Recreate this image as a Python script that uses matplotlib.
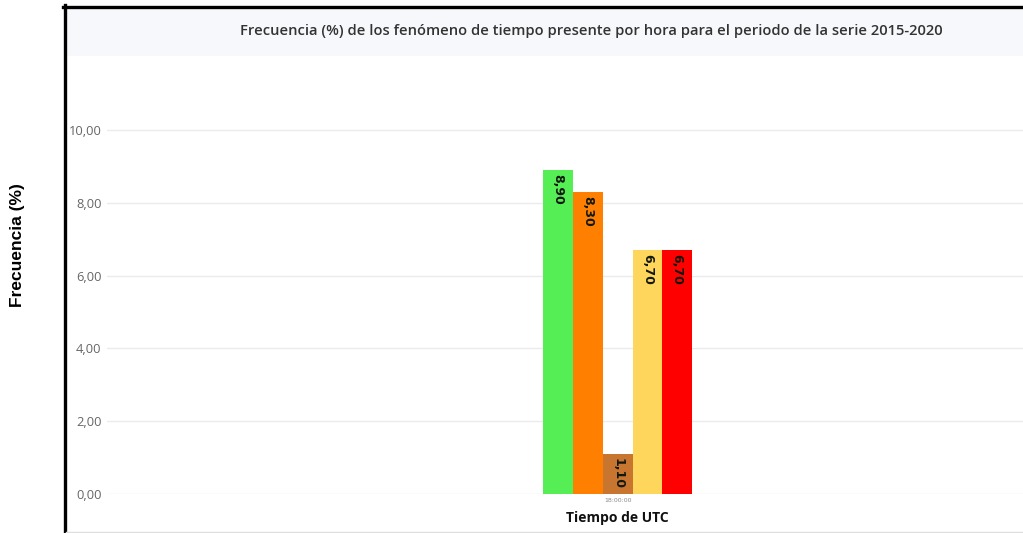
import numpy as np
import matplotlib
matplotlib.use("Agg")
import matplotlib.pyplot as plt
from matplotlib.patches import Rectangle
from matplotlib.lines import Line2D
from matplotlib import transforms

# data
hour_label = "18:00:00"
values = [8.90, 8.30, 1.10, 6.70, 6.70]
bar_colors = ["#55EE55", "#FF8000", "#C8752F", "#FFD65C", "#FF0000"]
y_ticks = [0, 2, 4, 6, 8, 10]

TITLE = ("Frecuencia (%) de los fenómeno de tiempo presente por hora "
         "para el periodo de la serie 2015-2020")

W, H = 1023, 533
fig = plt.figure(figsize=(W / 100, H / 100), dpi=100)
fig.patch.set_facecolor("white")

def fx(px):
    return px / W

def fy(py):
    return 1 - py / H

# title band
fig.patches.append(Rectangle((fx(66), fy(56)), fx(W - 66), 48 / H,
                             transform=fig.transFigure, facecolor="#F6F8FB",
                             edgecolor="none", zorder=0))
# black frame (left and top)
fig.add_artist(Line2D([fx(64.5), fx(64.5)], [fy(5), 0], transform=fig.transFigure,
                      color="black", lw=2.4))
fig.add_artist(Line2D([fx(63), 1], [fy(6.5), fy(6.5)], transform=fig.transFigure,
                      color="black", lw=2.4))
fig.add_artist(Line2D([fx(66), 1], [fy(532), fy(532)], transform=fig.transFigure,
                      color="#DDDDDD", lw=1))

fig.text(fx(591), fy(31), TITLE, ha="center", va="center", fontsize=10.6,
         fontweight="semibold", color="#333333", family="Open Sans")
fig.text(fx(18), fy(245), "Frecuencia (%)", rotation=90, ha="center", va="center",
         fontsize=12.5, fontweight="bold", family="Liberation Sans", color="black")

# axes: y=0 at px 494, y=10 at px 130
ax_left, ax_right = 107, 1023
ax_bottom, ax_top = 494, 57.2
ax = fig.add_axes([fx(ax_left), fy(ax_bottom), fx(ax_right - ax_left),
                   (ax_bottom - ax_top) / H])
ax.set_facecolor("none")

x = np.arange(len(values))
ax.bar(x, values, width=1.0, color=bar_colors, zorder=3)

for xi, v in zip(x, values):
    ax.text(xi, v - 0.12, f"{v:.2f}".replace(".", ","), rotation=270,
            ha="center", va="top", fontsize=9, fontweight="bold",
            color="#111811", family="DejaVu Sans", zorder=4)

unit = 29.8  # px per bar
left_lim = -(558 - ax_left) / unit
right_lim = left_lim + (ax_right - ax_left) / unit
ax.set_xlim(left_lim, right_lim)
ax.set_ylim(0, 12)

ax.set_yticks(y_ticks)
ax.set_yticklabels([f"{t:.2f}".replace(".", ",") for t in y_ticks],
                   fontsize=9.3, color="#666666", family="Open Sans")
ax.set_xticks([x.mean()])
ax.set_xticklabels([hour_label], fontsize=4.5, color="#888888")
ax.tick_params(length=0, pad=4)
ax.tick_params(axis="x", pad=3)
ax.grid(axis="y", color="#EBEBEB", lw=1, zorder=0)
for s in ax.spines.values():
    s.set_visible(False)

trans = transforms.blended_transform_factory(ax.transData, fig.transFigure)
ax.text(x.mean(), fy(518), "Tiempo de UTC", transform=trans, ha="center",
        va="center", fontsize=10, fontweight="bold", color="#111111",
        family="Open Sans")

fig.savefig("out.png", dpi=100)
